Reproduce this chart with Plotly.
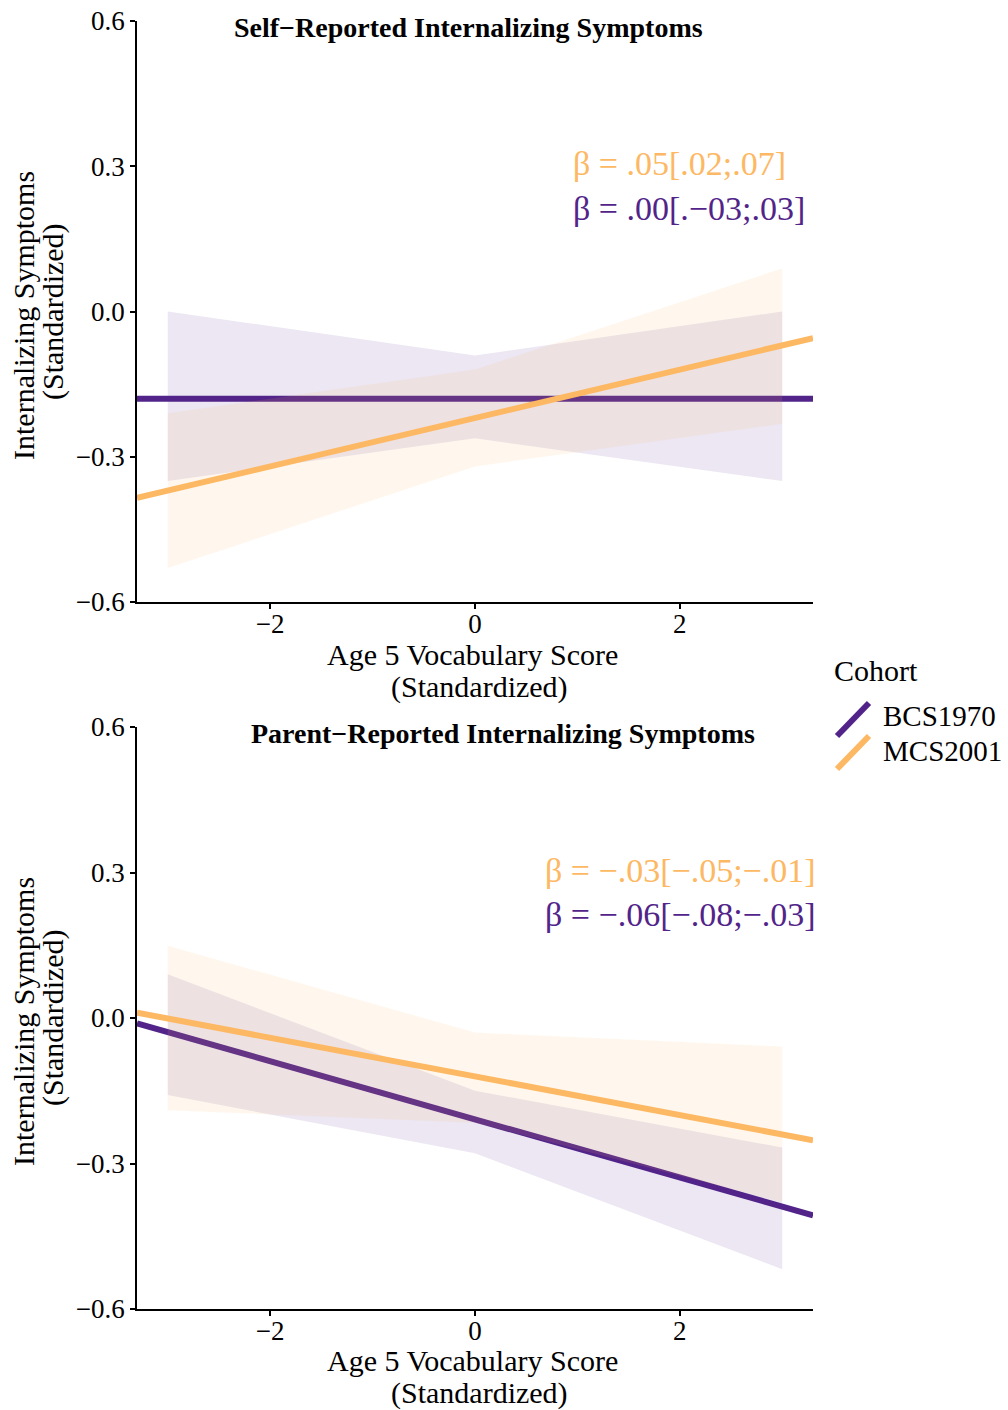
import plotly.graph_objects as go

# Fitted lines span the full x range; ribbons are evaluated at three points
line_x = [-3.3, 3.3]
ribbon_x = [-3, 0, 3]

cohorts = ["BCS1970", "MCS2001"]
colors = {"BCS1970": "#52248A", "MCS2001": "#FDB863"}
fills = {"BCS1970": "rgba(84,39,136,0.11)", "MCS2001": "rgba(253,184,99,0.11)"}

# Self-reported panel
self_line = {"BCS1970": [-0.18, -0.18], "MCS2001": [-0.385, -0.055]}
self_lo = {"BCS1970": [-0.35, -0.262, -0.35], "MCS2001": [-0.53, -0.32, -0.232]}
self_hi = {"BCS1970": [0.0, -0.091, 0.0], "MCS2001": [-0.21, -0.12, 0.089]}
self_beta = {"MCS2001": "β = .05[.02;.07]", "BCS1970": "β = .00[.−03;.03]"}

# Parent-reported panel
parent_line = {"BCS1970": [-0.011, -0.407], "MCS2001": [0.011, -0.252]}
parent_lo = {"BCS1970": [-0.159, -0.279, -0.518], "MCS2001": [-0.19, -0.216, -0.38]}
parent_hi = {"BCS1970": [0.090, -0.150, -0.267], "MCS2001": [0.149, -0.030, -0.059]}
parent_beta = {"MCS2001": "β = −.03[−.05;−.01]", "BCS1970": "β = −.06[−.08;−.03]"}

y_ticks = [-0.6, -0.3, 0.0, 0.3, 0.6]
x_ticks = [-2, 0, 2]

FONT = "Liberation Serif"
W, H = 1008, 1410
ML, MR, MT, MB = 137, 195, 21, 101
PW, PH = W - ML - MR, H - MT - MB


def px_x(p):
    return (p - ML) / PW


def px_y(p):
    return (H - MB - p) / PH


fig = go.Figure()


def add_line(xa, ya, lines, c):
    fig.add_trace(go.Scatter(
        x=line_x, y=lines[c], mode="lines", xaxis=xa, yaxis=ya,
        line=dict(color=colors[c], width=6), showlegend=False,
        hoverinfo="skip"))


panels = [
    ("x", "y", self_line, self_lo, self_hi),
    ("x2", "y2", parent_line, parent_lo, parent_hi),
]
for xa, ya, lines, lo, hi in panels:
    # BCS line sits beneath the ribbons, MCS line is drawn on top
    add_line(xa, ya, lines, "BCS1970")
    for c in cohorts:
        fig.add_trace(go.Scatter(
            x=ribbon_x + ribbon_x[::-1], y=hi[c] + lo[c][::-1],
            mode="lines", fill="toself", fillcolor=fills[c],
            line=dict(width=0), xaxis=xa, yaxis=ya, showlegend=False,
            hoverinfo="skip"))
    add_line(xa, ya, lines, "MCS2001")

axis_common = dict(
    showgrid=False, zeroline=False, showline=True, linecolor="black",
    linewidth=1.5, ticks="outside", ticklen=5, tickwidth=1.5,
    tickcolor="black", automargin=False,
    tickfont=dict(family=FONT, size=27, color="black"),
)
top_dom = [(PH - (602 - MT)) / PH, 1.0]
bot_dom = [0.0, (H - MB - 727) / PH]

fig.update_layout(
    width=W, height=H,
    margin=dict(l=ML, r=MR, t=MT, b=MB, autoexpand=False),
    plot_bgcolor="white", paper_bgcolor="white",
    showlegend=False,
    xaxis=dict(axis_common, range=[-3.3, 3.3], tickvals=x_ticks,
               ticklabelstandoff=-8, domain=[0, 1], anchor="y"),
    yaxis=dict(axis_common, range=[-0.6, 0.6], tickvals=y_ticks,
               tickformat=".1f", domain=top_dom, anchor="x"),
    xaxis2=dict(axis_common, range=[-3.3, 3.3], tickvals=x_ticks,
                ticklabelstandoff=-8, domain=[0, 1], anchor="y2"),
    yaxis2=dict(axis_common, range=[-0.6, 0.6], tickvals=y_ticks,
                tickformat=".1f", domain=bot_dom, anchor="x2"),
)

ann = []


def text(x, y, s, size, color="black", xanchor="center", angle=0):
    ann.append(dict(
        x=px_x(x), y=px_y(y), xref="paper", yref="paper", text=s,
        showarrow=False, xanchor=xanchor, yanchor="middle", textangle=angle,
        font=dict(family=FONT, size=size, color=color)))


# Panel titles
text(468, 27, "<b>Self−Reported Internalizing Symptoms</b>", 28)
text(503, 733, "<b>Parent−Reported Internalizing Symptoms</b>", 28)

# Axis titles
for top in (0, 706):
    text(472, 654 + top, "Age 5 Vocabulary Score", 30)
    text(479, 687 + top, "(Standardized)", 30)
    text(23, 316 + top, "Internalizing Symptoms", 30, angle=-90)
    text(53, 312 + top, "(Standardized)", 30, angle=-90)

# Coefficient labels
text(571, 163, self_beta["MCS2001"], 34, colors["MCS2001"], "left")
text(571, 208, self_beta["BCS1970"], 34, colors["BCS1970"], "left")
text(543, 870, parent_beta["MCS2001"], 34, colors["MCS2001"], "left")
text(543, 914, parent_beta["BCS1970"], 34, colors["BCS1970"], "left")

# Legend
text(832, 671, "Cohort", 30, xanchor="left")
shapes = []
for i, c in enumerate(cohorts):
    yc = 719 + 33 * i
    text(881, yc - 3 + 2 * i, c, 29, xanchor="left")
    shapes.append(dict(
        type="line", xref="paper", yref="paper",
        x0=px_x(837), y0=px_y(yc + 17), x1=px_x(869), y1=px_y(yc - 16),
        line=dict(color=colors[c], width=6)))

fig.update_layout(annotations=ann, shapes=shapes)
fig.write_html("out.html")
